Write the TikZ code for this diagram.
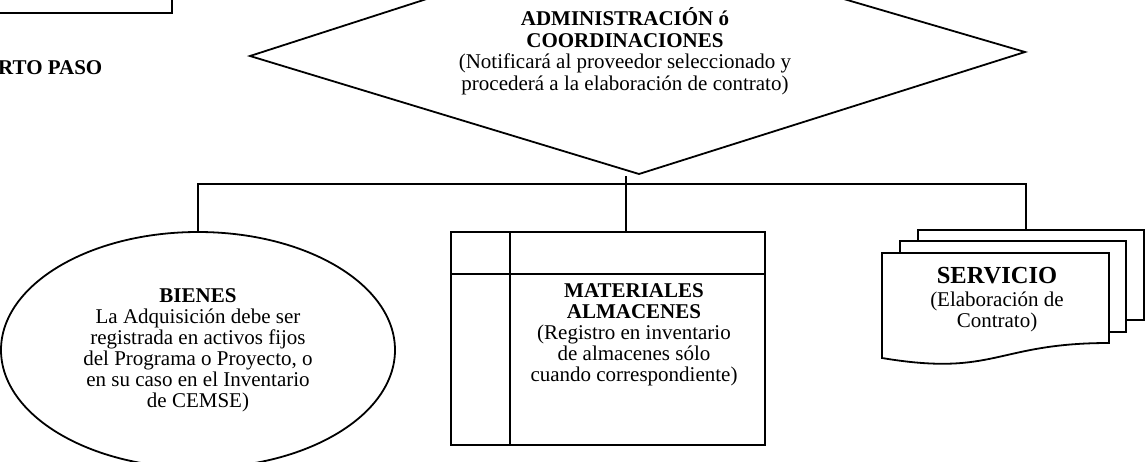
\documentclass[tikz,border=0pt]{standalone}
\usepackage{fontspec}
\setmainfont{Liberation Serif}
\usetikzlibrary{shapes.geometric}
\tikzset{
  ln/.style={line width=1.8pt, line join=miter},
  txt/.style={align=center, inner sep=0pt, font=\fontsize{21}{21}\selectfont},
  page/.style={ln, fill=white}
}
\begin{document}
\begin{tikzpicture}[x=1pt,y=-1pt]
\useasboundingbox (0,0) rectangle (1146,461);
\clip (0,0) rectangle (1146,461);
\fill[white] (0,0) rectangle (1146,461);

% partial box at top left
\node[draw, ln, minimum width=220pt, minimum height=60pt, inner sep=0, anchor=south east] (prevbox) at (173,14) {};
\node[txt, anchor=west, font=\fontsize{21}{21}\selectfont\bfseries] (paso) at (-2,68) {RTO PASO};

% diamond
\coordinate (dl) at (250,56);
\coordinate (dt) at (625,-65);
\coordinate (dr) at (1025,52);
\coordinate (db) at (639,174);
\draw[ln] (dl) -- (dt) -- (dr) -- (db) -- cycle;
\node[txt, font=\fontsize{21}{21.5}\selectfont] (dtext) at (625,51) {\textbf{ADMINISTRACIÓN ó}\\\textbf{COORDINACIONES}\\(Notificará al proveedor seleccionado y\\procederá a la elaboración de contrato)};

% bienes ellipse
\node[draw, ln, ellipse, minimum width=394pt, minimum height=236pt, inner sep=0, txt] (bienes) at (198,350)
  {\textbf{BIENES}\\La Adquisición debe ser\\registrada en activos fijos\\del Programa o Proyecto, o\\en su caso en el Inventario\\de CEMSE)};

% materiales box (internal storage)
\node[draw, ln, rectangle, minimum width=314pt, minimum height=213pt, inner sep=0] (mat) at (608,338.5) {};
\draw[ln] ([xshift=60pt]mat.north west) -- ([xshift=60pt]mat.south west);
\draw[ln] ([yshift=-43pt]mat.north west) -- ([yshift=-43pt]mat.north east);
\node[txt] (mattext) at (634,335) {\textbf{MATERIALES}\\\textbf{ALMACENES}\\(Registro en inventario\\de almacenes sólo\\cuando correspondiente)};

% servicio multi-document
\draw[page] (918,320) -- (918,230) -- (1144,230) -- (1144,320) -- (1120,320);
\draw[page] (900,332) -- (900,241) -- (1126,241) -- (1126,332) -- (1100,332);
\draw[page] (882,253) -- (1109,253) -- (1109,343) .. controls (995.5,343) and (995.5,377) .. (882,358) -- cycle;
\coordinate (servtop) at (1026,230);
\node[txt] (servtext) at (997,300) {{\fontsize{24.5}{24}\selectfont\bfseries SERVICIO}\\[2pt](Elaboración de\\Contrato)};

% connectors
\coordinate (hl) at (626,184);
\coordinate (tick) at (626,176);
\draw[ln] (bienes.north) -- (bienes.north |- hl) -- (hl -| servtop) -- (servtop);
\draw[ln] (tick) -- (tick |- mat.north);
\end{tikzpicture}
\end{document}
